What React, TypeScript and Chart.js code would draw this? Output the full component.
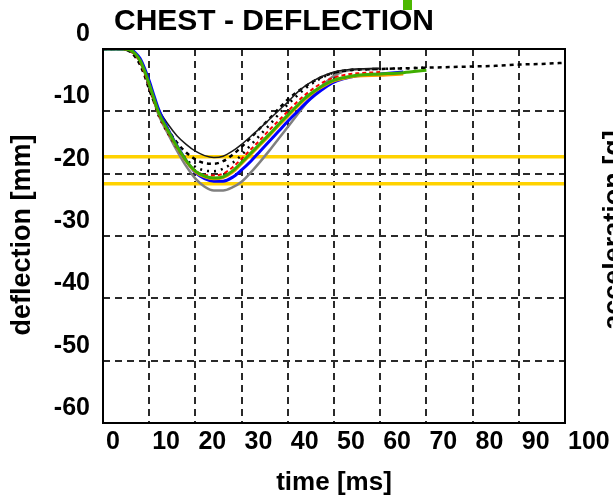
import React, { useEffect, useRef } from "react";
import { Chart, registerables } from "chart.js";

Chart.register(...registerables);

const titleText = "CHEST - DEFLECTION";
const xTitle = "time [ms]";
const yTitle = "deflection [mm]";
const sideTitle = "acceleration [g]";

const xTicks = [0, 10, 20, 30, 40, 50, 60, 70, 80, 90, 100];
const yTicks = [0, -10, -20, -30, -40, -50, -60];

const limitTimes = [0, 100];
const limitUpper = [-17.3, -17.3];
const limitLower = [-21.6, -21.6];

const timeMain = [0, 4, 6, 7, 8, 9, 10, 11, 12, 14, 16, 18, 20, 22, 24, 26, 28, 30, 32, 34, 36, 38, 40, 42, 44, 46, 48, 50, 52, 55, 60];

const greenVals = [0, 0, -0.2, -0.8, -1.8, -3.5, -5.6, -7.9, -10.1, -13.0, -15.6, -17.9, -19.6, -20.4, -20.7, -20.5, -19.6, -18.2, -16.7, -15.2, -13.7, -12.1, -10.6, -9.1, -7.7, -6.6, -5.7, -5.0, -4.6, -4.2, -4.0];
const greenTailT = [65, 70];
const greenTailV = [-3.8, -3.4];

const redVals = [0, 0, -0.4, -1.0, -2.1, -3.9, -6.0, -8.3, -10.4, -13.3, -15.8, -18.0, -19.5, -20.2, -20.3, -20.0, -19.0, -17.6, -16.1, -14.6, -13.0, -11.5, -10.0, -8.5, -7.2, -6.1, -5.2, -4.6, -4.2, -3.9, -3.7];

const orangeVals = [0, 0, -0.2, -0.8, -1.9, -3.6, -5.7, -8.0, -10.2, -13.2, -15.8, -18.1, -19.8, -20.6, -20.9, -20.7, -19.9, -18.5, -17.0, -15.5, -14.0, -12.4, -10.9, -9.4, -8.0, -6.8, -5.9, -5.2, -4.8, -4.4, -4.3];
const orangeTailT = [65];
const orangeTailV = [-4.1];

const blueVals = [0, 0, -0.1, -0.6, -1.5, -3.1, -5.1, -7.4, -9.6, -12.8, -15.5, -17.9, -19.8, -20.8, -21.2, -21.2, -20.6, -19.4, -18.0, -16.4, -14.8, -13.2, -11.6, -10.1, -8.6, -7.3, -6.2, -5.3, -4.8, -4.3, -4.0];
const blueTailT = [65];
const blueTailV = [-3.7];

const grayVals = [0, 0, -0.2, -0.9, -2.0, -3.8, -6.0, -8.3, -10.5, -13.5, -16.3, -18.8, -20.8, -22.1, -22.7, -22.7, -22.2, -21.3, -19.8, -18.1, -16.3, -14.4, -12.5, -10.6, -8.7, -7.0, -5.5, -4.3, -3.6, -3.3, -3.2];

const blackVals = [0, 0, -0.3, -0.9, -2.0, -3.7, -5.7, -7.8, -9.6, -12.0, -13.9, -15.3, -16.4, -17.1, -17.4, -17.2, -16.4, -15.3, -14.0, -12.7, -11.3, -9.9, -8.5, -7.0, -5.8, -4.9, -4.2, -3.7, -3.4, -3.2, -3.1];

const dotAVals = [0, 0, -0.4, -1.1, -2.3, -4.0, -6.1, -8.4, -10.6, -13.4, -15.8, -17.7, -18.9, -19.5, -19.6, -19.2, -18.3, -17.0, -15.4, -13.8, -12.2, -10.5, -8.9, -7.5, -6.2, -5.2, -4.4, -3.8, -3.5, -3.3, -3.2];
const dotATailT = [65, 70];
const dotATailV = [-3.1, -3.0];

const dotBVals = [0, 0, -0.5, -1.3, -2.5, -4.3, -6.5, -8.4, -10.0, -12.8, -15.0, -16.6, -17.7, -18.3, -18.4, -18.0, -17.0, -15.7, -14.2, -12.7, -11.2, -9.6, -8.1, -6.9, -5.9, -5.0, -4.3, -3.8, -3.5, -3.3, -3.2];
const dotBTailT = [65, 70, 75, 80, 85, 90, 95, 100];
const dotBTailV = [-3.1, -3.0, -2.9, -2.8, -2.7, -2.5, -2.4, -2.2];

const FONT = '"Liberation Sans", Arial, Helvetica, sans-serif';

function pts(t: number[], v: number[], tt: number[] = [], tv: number[] = []) {
  const a = t.map((x, i) => ({ x, y: v[i] }));
  const b = tt.map((x, i) => ({ x, y: tv[i] }));
  return a.concat(b);
}

const decorPlugin = {
  id: "decor",
  afterDraw(chart: any) {
    const { ctx, chartArea: a } = chart;
    ctx.save();
    ctx.strokeStyle = "#000";
    ctx.lineWidth = 2;
    ctx.setLineDash([]);
    ctx.strokeRect(a.left, a.top, a.right - a.left, a.bottom - a.top);

    ctx.fillStyle = "#000";
    ctx.font = `bold 30px ${FONT}`;
    ctx.textAlign = "center";
    ctx.textBaseline = "alphabetic";
    ctx.fillText(titleText, 274, 30);

    ctx.fillStyle = "#4CB800";
    ctx.fillRect(403, 0, 9, 10);

    ctx.fillStyle = "#000";
    ctx.font = `bold 26px ${FONT}`;
    ctx.textBaseline = "middle";
    ctx.fillText(xTitle, (a.left + a.right) / 2, 483);

    ctx.save();
    ctx.font = `bold 27px ${FONT}`;
    ctx.translate(23, 235);
    ctx.rotate(-Math.PI / 2);
    ctx.fillText(yTitle, 0, 0);
    ctx.restore();

    ctx.save();
    ctx.font = `bold 27px ${FONT}`;
    ctx.translate(622, 230);
    ctx.rotate(-Math.PI / 2);
    ctx.textBaseline = "alphabetic";
    ctx.fillText(sideTitle, 0, 0);
    ctx.restore();

    ctx.restore();
  },
};

export default function App() {
  const ref = useRef<HTMLCanvasElement | null>(null);
  useEffect(() => {
    if (!ref.current) return;
    const line = (data: any, color: string, width: number, dash: number[] = []) => ({
      data,
      borderColor: color,
      backgroundColor: color,
      borderWidth: width,
      borderDash: dash,
      pointRadius: 0,
      fill: false,
      cubicInterpolationMode: "monotone",
    });
    const tickFont = { family: FONT, size: 25, weight: "bold" };
    const chart = new Chart(ref.current, {
      type: "line",
      data: {
        datasets: [
          line(pts(timeMain, greenVals, greenTailT, greenTailV), "#3FAE00", 3),
          line(pts(timeMain, redVals), "#FF0000", 2, [4, 3]),
          line(pts(timeMain, orangeVals, orangeTailT, orangeTailV), "#FF9900", 2),
          line(pts(timeMain, blueVals, blueTailT, blueTailV), "#0000FF", 3),
          line(pts(timeMain, blackVals), "#1a1a1a", 1.5),
          line(pts(timeMain, dotAVals, dotATailT, dotATailV), "#000000", 2.5, [2, 5]),
          line(pts(timeMain, dotBVals, dotBTailT, dotBTailV), "#000000", 2.5, [4, 4]),
          line(pts(timeMain, grayVals), "#808080", 2.5),
          line(pts(limitTimes, limitUpper), "#FFD200", 3.5),
          line(pts(limitTimes, limitLower), "#FFD200", 3.5),
        ] as any,
      },
      options: {
        animation: false,
        responsive: false,
        maintainAspectRatio: false,
        layout: { padding: { left: 0, right: 48, top: 49, bottom: 0 } },
        plugins: {
          legend: { display: false },
          title: { display: false },
          tooltip: { enabled: false },
        },
        scales: {
          x: {
            type: "linear",
            min: 0,
            max: 100,
            afterBuildTicks: (s: any) => {
              s.ticks = xTicks.map((v) => ({ value: v }));
            },
            afterFit: (s: any) => {
              s.height = 76;
            },
            grid: { color: "#2a2a2a", lineWidth: 2, drawTicks: false },
            border: { display: false, dash: [7, 5] },
            ticks: {
              autoSkip: false,
              maxRotation: 0,
              align: "start",
              labelOffset: 3,
              padding: 4,
              color: "#000",
              font: tickFont,
            },
          },
          y: {
            type: "linear",
            min: -60,
            max: 0,
            afterBuildTicks: (s: any) => {
              s.ticks = yTicks.map((v) => ({ value: v }));
            },
            afterFit: (s: any) => {
              s.width = 103;
            },
            grid: { color: "#2a2a2a", lineWidth: 2, drawTicks: false },
            border: { display: false, dash: [7, 5] },
            ticks: {
              autoSkip: false,
              labelOffset: -15,
              padding: 13,
              color: "#000",
              font: tickFont,
            },
          },
        },
      },
      plugins: [decorPlugin],
    } as any);
    return () => chart.destroy();
  }, []);
  return (
    <div style={{ position: "fixed", left: 0, top: 0, width: 613, height: 499, background: "#fff" }}>
      <canvas ref={ref} width={613} height={499} style={{ width: 613, height: 499, display: "block" }} />
    </div>
  );
}
